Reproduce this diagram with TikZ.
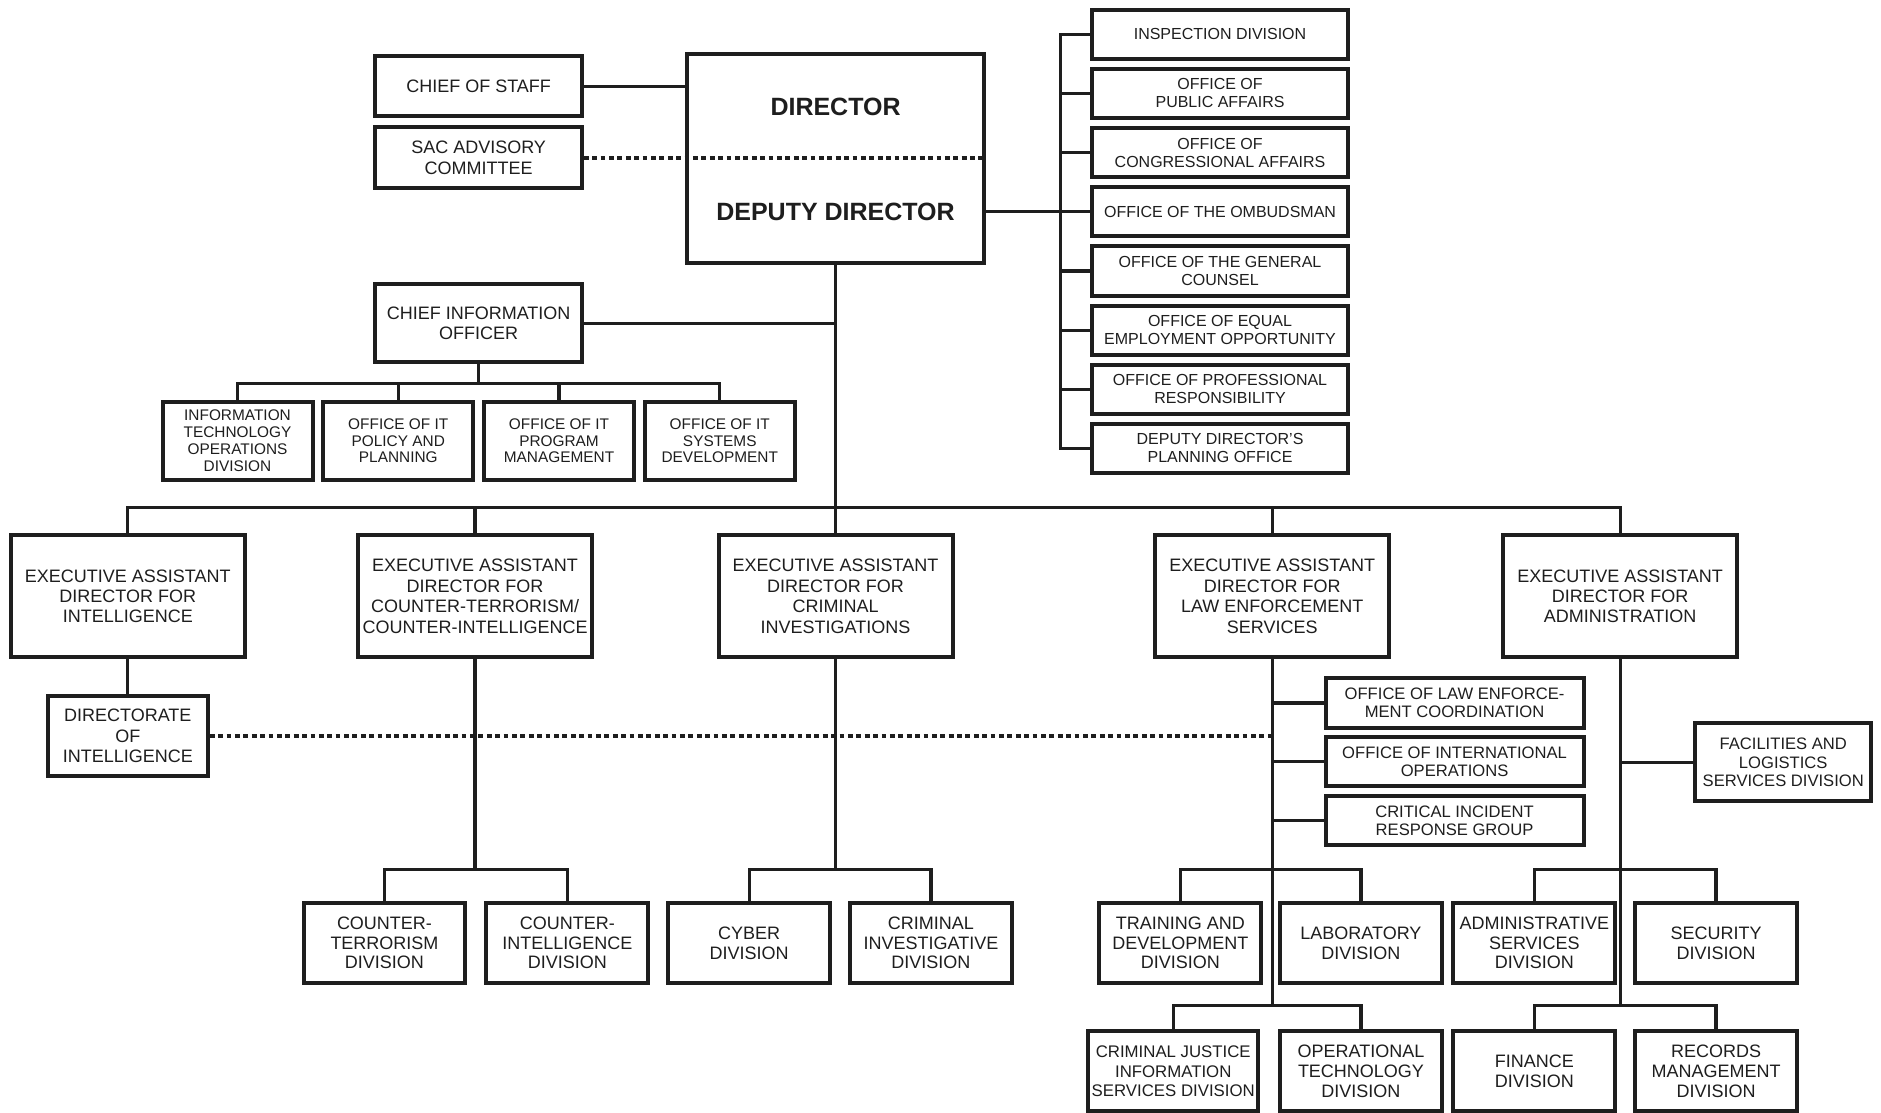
\documentclass[tikz,border=0pt]{standalone}
\usepackage{fontspec}
\setmainfont{Liberation Sans}
\usetikzlibrary{positioning}
\definecolor{ink}{RGB}{30,30,30}

\begin{document}
\begin{tikzpicture}[x=0.6pt, y=-0.6pt,
  box/.style={rectangle, draw=ink, line width=2pt, fill=white, text=ink, align=center,
    inner xsep=1.5pt, inner ysep=1pt, font=\fontsize{9}{10.2}\selectfont},
  eadbox/.style={box, minimum width=117pt, minimum height=61.2pt},
  divbox/.style={box, minimum width=81pt, minimum height=40.2pt, font=\fontsize{9}{9.9}\selectfont},
  staffbox/.style={box, minimum width=128.4pt, minimum height=24.6pt, font=\fontsize{8}{9}\selectfont},
  itbox/.style={box, minimum width=75pt, minimum height=39pt, font=\fontsize{7.7}{8.4}\selectfont},
  sidebox/.style={box, minimum width=129pt, minimum height=24.6pt, font=\fontsize{8.3}{9}\selectfont},
  title/.style={text=ink, font=\fontsize{12.5}{14}\selectfont\bfseries},
  link/.style={draw=ink, line width=1.6pt},
  dotlink/.style={draw=ink, line width=2.2pt, dash pattern=on 2.4pt off 1.8pt},
  node distance=29.6pt]
  \useasboundingbox[fill=white] (0,0) rectangle (1568,927);

  % director and staff
  \node[box, minimum width=148.2pt, minimum height=104.4pt] (top) at (696.5,132) {};
  \node[title] (dir) at (696.5,89) {DIRECTOR};
  \node[title] (dep) at (696.5,177) {DEPUTY DIRECTOR};
  \node[box, minimum width=103.2pt, minimum height=30pt] (cos) at (399,72) {CHIEF OF STAFF};
  \node[box, minimum width=103.2pt, minimum height=30.6pt] (sac) at (399,131.5) {SAC ADVISORY\\COMMITTEE};
  \draw[link] (cos.east) -- (cos.east -| top.west);
  \draw[dotlink] (sac.east) -- (sac.east -| top.east);

  % offices on the right
  \node[staffbox] (insp) at (1017,28.5) {INSPECTION DIVISION};
  \node[staffbox, below of=insp] (opa) {OFFICE OF\\PUBLIC AFFAIRS};
  \node[staffbox, below of=opa] (oca) {OFFICE OF\\CONGRESSIONAL AFFAIRS};
  \node[staffbox, below of=oca] (omb) {OFFICE OF THE OMBUDSMAN};
  \node[staffbox, below of=omb] (ogc) {OFFICE OF THE GENERAL\\COUNSEL};
  \node[staffbox, below of=ogc] (eeo) {OFFICE OF EQUAL\\EMPLOYMENT OPPORTUNITY};
  \node[staffbox, below of=eeo] (opr) {OFFICE OF PROFESSIONAL\\RESPONSIBILITY};
  \node[staffbox, below of=opr] (ddpo) {DEPUTY DIRECTOR'S\\PLANNING OFFICE};
  \coordinate (sbus) at (884,0);
  \draw[link] (top.east |- omb) -- (omb.west);
  \draw[link] (insp.west) -- (insp.west -| sbus) -- (ddpo.west -| sbus) -- (ddpo.west);
  \foreach \n in {opa,oca,ogc,eeo,opr}
    \draw[link] (\n.west -| sbus) -- (\n.west);

  % chief information officer
  \node[box, minimum width=103.2pt, minimum height=39pt] (cio) at (399,269.5) {CHIEF INFORMATION\\OFFICER};
  \draw[link] (cio.east) -- (cio.east -| top.south);
  \node[itbox] (itops) at (198,367.5) {INFORMATION\\TECHNOLOGY\\OPERATIONS\\DIVISION};
  \node[itbox, right of=itops, node distance=80.4pt] (itpol) {OFFICE OF IT\\POLICY AND\\PLANNING};
  \node[itbox, right of=itpol, node distance=80.4pt] (itprog) {OFFICE OF IT\\PROGRAM\\MANAGEMENT};
  \node[itbox, right of=itprog, node distance=80.4pt] (itsys) {OFFICE OF IT\\SYSTEMS\\DEVELOPMENT};
  \coordinate (itbus) at (0,320);
  \draw[link] (cio.south) -- (cio.south |- itbus);
  \draw[link] (itops.north) -- (itops.north |- itbus) -- (itsys.north |- itbus) -- (itsys.north);
  \foreach \n in {itpol,itprog}
    \draw[link] (\n.north |- itbus) -- (\n.north);

  % executive assistant directors
  \coordinate (mbus) at (0,423);
  \node[eadbox] (eadint) at (106.5,497) {EXECUTIVE ASSISTANT\\DIRECTOR FOR\\INTELLIGENCE};
  \node[eadbox] (eadct) at (396,497) {EXECUTIVE ASSISTANT\\DIRECTOR FOR\\COUNTER-TERRORISM/\\COUNTER-INTELLIGENCE};
  \node[eadbox] (eadcrim) at (696.5,497) {EXECUTIVE ASSISTANT\\DIRECTOR FOR\\CRIMINAL\\INVESTIGATIONS};
  \node[eadbox] (eadle) at (1060.5,497) {EXECUTIVE ASSISTANT\\DIRECTOR FOR\\LAW ENFORCEMENT\\SERVICES};
  \node[eadbox] (eadadm) at (1350.5,497) {EXECUTIVE ASSISTANT\\DIRECTOR FOR\\ADMINISTRATION};
  \draw[link] (top.south) -- (eadcrim.north);
  \draw[link] (eadint.north) -- (eadint.north |- mbus) -- (eadadm.north |- mbus) -- (eadadm.north);
  \foreach \n in {eadct,eadle}
    \draw[link] (\n.north |- mbus) -- (\n.north);

  % intelligence
  \node[box, minimum width=80pt, minimum height=40pt] (doi) at (106.5,613.5) {DIRECTORATE\\OF\\INTELLIGENCE};
  \draw[link] (eadint) -- (doi);
  \draw[dotlink] (doi.east) -- (doi.east -| eadle.south);

  % divisions
  \coordinate (dbus) at (0,725);
  \coordinate (lbus) at (0,838);
  \node[divbox] (ctd) at (320.5,786) {COUNTER-\\TERRORISM\\DIVISION};
  \node[divbox] (cid) at (473,786) {COUNTER-\\INTELLIGENCE\\DIVISION};
  \node[divbox] (cyb) at (624.5,786) {CYBER\\DIVISION};
  \node[divbox] (cind) at (776,786) {CRIMINAL\\INVESTIGATIVE\\DIVISION};
  \draw[link] (eadct.south) -- (eadct.south |- dbus);
  \draw[link] (ctd.north) -- (ctd.north |- dbus) -- (cid.north |- dbus) -- (cid.north);
  \draw[link] (eadcrim.south) -- (eadcrim.south |- dbus);
  \draw[link] (cyb.north) -- (cyb.north |- dbus) -- (cind.north |- dbus) -- (cind.north);

  % law enforcement services
  \node[sidebox] (olec) at (1212.5,586) {OFFICE OF LAW ENFORCE-\\MENT COORDINATION};
  \node[sidebox, below of=olec, node distance=29.4pt] (oio) {OFFICE OF INTERNATIONAL\\OPERATIONS};
  \node[sidebox, below of=oio, node distance=29.4pt] (cirg) {CRITICAL INCIDENT\\RESPONSE GROUP};
  \draw[link] (eadle.south) -- (eadle.south |- lbus);
  \foreach \n in {olec,oio,cirg}
    \draw[link] (\n.west -| eadle.south) -- (\n.west);
  \node[divbox] (tdd) at (984,786) {TRAINING AND\\DEVELOPMENT\\DIVISION};
  \node[divbox] (lab) at (1134.5,786) {LABORATORY\\DIVISION};
  \node[divbox, minimum width=85.2pt, font=\fontsize{8.4}{9.9}\selectfont] (cjis) at (978,893) {CRIMINAL JUSTICE\\INFORMATION\\SERVICES DIVISION};
  \node[divbox] (otd) at (1134.5,893) {OPERATIONAL\\TECHNOLOGY\\DIVISION};
  \draw[link] (tdd.north) -- (tdd.north |- dbus) -- (lab.north |- dbus) -- (lab.north);
  \draw[link] (cjis.north) -- (cjis.north |- lbus) -- (otd.north |- lbus) -- (otd.north);

  % administration
  \node[box, minimum width=88.2pt, minimum height=39pt, font=\fontsize{8.3}{9.3}\selectfont] (fls) at (1486.5,635.5) {FACILITIES AND\\LOGISTICS\\SERVICES DIVISION};
  \draw[link] (eadadm.south) -- (eadadm.south |- lbus);
  \draw[link] (fls.west -| eadadm.south) -- (fls.west);
  \node[divbox] (asd) at (1279,786) {ADMINISTRATIVE\\SERVICES\\DIVISION};
  \node[divbox] (sec) at (1430.5,786) {SECURITY\\DIVISION};
  \node[divbox] (fin) at (1279,893) {FINANCE\\DIVISION};
  \node[divbox] (rmd) at (1430.5,893) {RECORDS\\MANAGEMENT\\DIVISION};
  \draw[link] (asd.north) -- (asd.north |- dbus) -- (sec.north |- dbus) -- (sec.north);
  \draw[link] (fin.north) -- (fin.north |- lbus) -- (rmd.north |- lbus) -- (rmd.north);

\end{tikzpicture}
\end{document}
